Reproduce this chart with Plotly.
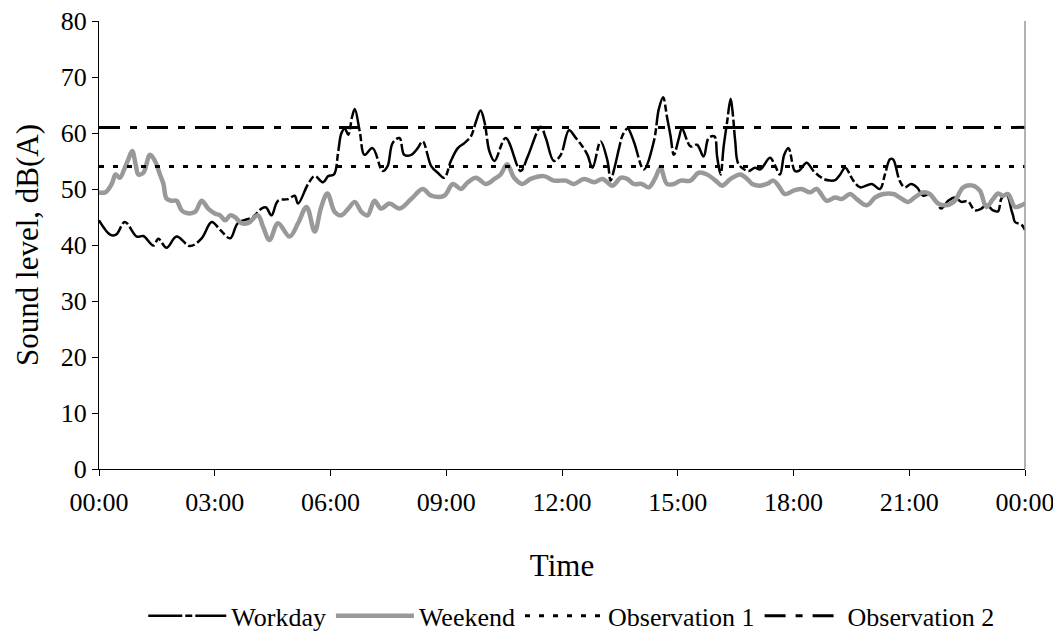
import plotly.graph_objects as go

# hours after midnight and sound level, dB(A)
workday_hours = [0.00, 0.30, 0.45, 0.67, 0.98, 1.15, 1.41, 1.54, 1.75, 2.01, 2.36, 2.66, 2.92, 3.14, 3.40,
                 3.60, 3.99, 4.21, 4.33, 4.47, 4.64, 4.90, 5.07, 5.16, 5.42, 5.59, 5.81, 5.94, 6.09, 6.20,
                 6.28, 6.37, 6.46, 6.56, 6.63, 6.76, 6.88, 7.09, 7.35, 7.48, 7.61, 7.79, 7.91, 8.09, 8.26,
                 8.39, 8.61, 8.78, 8.95, 9.12, 9.30, 9.47, 9.64, 9.77, 9.89, 9.99, 10.12, 10.25, 10.54,
                 10.93, 11.10, 11.45, 11.58, 11.79, 11.97, 12.18, 12.36, 12.53, 12.66, 12.79, 13.00,
                 13.18, 13.26, 13.35, 13.48, 13.57, 13.70, 13.86, 14.12, 14.38, 14.51, 14.62, 14.72,
                 14.81, 14.90, 15.03, 15.11, 15.33, 15.50, 15.67, 15.80, 15.95, 16.02, 16.11, 16.19,
                 16.28, 16.37, 16.43, 16.49, 16.58, 16.84, 17.00, 17.14, 17.39, 17.52, 17.65, 17.76,
                 17.87, 18.04, 18.15, 18.34, 18.52, 18.78, 18.95, 19.08, 19.21, 19.34, 19.55, 19.73,
                 20.03, 20.24, 20.37, 20.50, 20.58, 20.75, 20.88, 21.05, 21.20, 21.36, 21.53, 21.70,
                 21.83, 22.01, 22.18, 22.35, 22.52, 22.70, 22.87, 23.00, 23.17, 23.30, 23.39, 23.52,
                 23.65, 23.69, 23.74, 23.91, 24.00]
workday_db = [44.4, 41.8, 41.9, 44.1, 41.5, 41.6, 39.9, 41.1, 39.5, 41.5, 39.8, 41.2, 44.1, 42.7, 41.2,
              43.9, 45.0, 46.5, 46.7, 45.3, 47.9, 48.2, 48.8, 47.4, 50.9, 52.3, 51.2, 52.3, 52.6, 56.7,
              59.9, 60.8, 59.7, 62.9, 64.3, 60.2, 56.1, 57.3, 53.2, 54.1, 58.2, 59.1, 56.1, 56.1, 57.3,
              58.5, 54.1, 52.9, 52.0, 55.0, 57.3, 58.2, 59.4, 62.0, 64.0, 62.0, 56.7, 55.0, 59.1,
              53.2, 55.6, 61.1, 59.1, 55.0, 56.1, 60.5, 59.1, 57.6, 56.1, 53.8, 58.5,
              55.0, 51.5, 53.5, 57.3, 59.6, 60.8, 58.5, 53.5, 58.5, 64.3, 66.4, 62.9,
              59.6, 56.1, 59.1, 60.8, 57.6, 57.9, 55.8, 59.1, 59.4, 55.8, 52.6, 57.6,
              62.0, 66.1, 63.2, 58.5, 54.4, 53.2, 53.8, 53.5, 55.6, 54.2, 52.6, 56.1,
              57.3, 53.2, 53.3, 54.7, 53.2, 51.8, 51.5, 51.6, 52.6, 53.8, 51.5, 50.3,
              50.9, 50.0, 52.6, 55.3, 55.3, 51.5, 50.3, 50.9, 50.3, 48.8, 49.1, 47.7,
              46.5, 47.9, 48.5, 47.7, 47.8, 46.2, 46.5, 47.2, 46.2, 46.0, 48.3, 49.1,
              46.2, 45.3, 44.1, 43.6, 42.7]

weekend_hours = [0.00, 0.16, 0.33, 0.43, 0.54, 0.67, 0.76, 0.86, 0.95, 1.02, 1.15, 1.32, 1.45, 1.58,
                 1.67, 1.75, 1.88, 2.01, 2.14, 2.27, 2.49, 2.66, 2.83, 3.01, 3.14, 3.27, 3.40, 3.52,
                 3.69, 3.86, 4.12, 4.25, 4.42, 4.64, 4.94, 5.16, 5.38, 5.59, 5.76, 5.92, 6.11, 6.28,
                 6.46, 6.63, 6.80, 6.96, 7.14, 7.31, 7.53, 7.79, 8.09, 8.39, 8.61, 8.95, 9.17, 9.38,
                 9.56, 9.77, 10.03, 10.25, 10.41, 10.58, 10.76, 10.97, 11.19, 11.53, 11.79, 12.10,
                 12.31, 12.57, 12.83, 13.05, 13.31, 13.52, 13.69, 13.86, 14.07, 14.25, 14.42, 14.55,
                 14.72, 14.90, 15.07, 15.33, 15.54, 15.76, 15.98, 16.15, 16.37, 16.62, 16.80, 16.93,
                 17.13, 17.31, 17.48, 17.61, 17.78, 18.00, 18.21, 18.43, 18.60, 18.86, 19.08, 19.25,
                 19.47, 19.64, 19.90, 20.12, 20.33, 20.59, 20.75, 20.97, 21.14, 21.36, 21.53, 21.75,
                 21.96, 22.18, 22.40, 22.65, 22.83, 23.00, 23.17, 23.30, 23.43, 23.56, 23.74, 23.91,
                 24.00]
weekend_db = [49.4, 49.4, 50.9, 52.6, 52.0, 53.8, 55.3, 56.8, 54.4, 52.6, 52.9, 56.1, 55.0, 52.6,
              50.9, 48.3, 47.9, 47.9, 46.2, 45.7, 45.9, 47.9, 46.5, 45.6, 45.3, 44.4, 45.3, 45.0,
              43.9, 43.9, 45.3, 43.3, 40.9, 43.9, 41.5, 43.9, 46.8, 42.4, 46.8, 49.2, 45.9, 45.3,
              46.5, 47.7, 45.9, 45.3, 47.9, 46.5, 47.4, 46.5, 48.2, 50.0, 48.8, 48.8, 50.9, 50.0,
              51.2, 52.0, 50.9, 51.8, 52.6, 54.4, 52.0, 50.9, 51.8, 52.3, 51.5, 51.5,
              50.9, 51.8, 51.2, 51.8, 50.6, 52.0, 51.8, 50.9, 50.9, 50.3, 52.0, 53.8,
              50.9, 50.9, 51.5, 51.5, 52.9, 52.6, 51.5, 50.6, 51.8, 52.6, 51.8, 50.9,
              50.6, 50.9, 51.5, 50.6, 49.1, 49.7, 50.0, 49.4, 50.0, 47.9, 48.5, 48.2,
              49.1, 48.2, 47.1, 48.5, 49.1, 49.1, 48.5, 47.7, 48.5, 49.4, 49.1, 47.4,
              47.1, 47.9, 50.3, 50.6, 49.7, 46.8, 48.2, 49.2, 48.8, 49.1, 46.8, 47.1,
              47.4]

obs1_db = 54
obs2_db = 61

tick_hours = [0, 3, 6, 9, 12, 15, 18, 21, 24]
tick_labels = ["00:00", "03:00", "06:00", "09:00", "12:00", "15:00", "18:00", "21:00", "00:00"]

font = "Liberation Serif"

fig = go.Figure()

fig.add_trace(go.Scatter(
    x=workday_hours, y=workday_db, name="Workday", mode="lines",
    line=dict(color="black", width=2.5, dash="34px,3px,7px,3px", shape="spline", smoothing=1)))

fig.add_trace(go.Scatter(
    x=weekend_hours, y=weekend_db, name="Weekend", mode="lines",
    line=dict(color="#999999", width=4.5, shape="spline", smoothing=1)))

fig.add_trace(go.Scatter(
    x=[0, 24], y=[obs1_db, obs1_db], name="Observation 1", mode="lines",
    line=dict(color="black", width=3, dash="5px,9px")))

fig.add_trace(go.Scatter(
    x=[0, 24], y=[obs2_db, obs2_db], name="Observation 2", mode="lines",
    line=dict(color="black", width=3, dash="21px,10px,7px,10px")))

fig.update_layout(
    width=1061, height=642,
    margin=dict(l=91, r=44, t=13, b=180),
    plot_bgcolor="white", paper_bgcolor="white",
    font=dict(family=font, size=26, color="black"),
    showlegend=True,
    legend=dict(orientation="h", x=0.51, xanchor="center", y=-0.325, yanchor="middle",
                font=dict(size=26), itemwidth=78, tracegroupgap=0),
)

fig.update_xaxes(
    range=[0, 24], tickvals=tick_hours, ticktext=tick_labels, automargin=False,
    showgrid=False, zeroline=False, showline=True, linecolor="black", linewidth=1,
    ticks="outside", ticklen=6, tickcolor="black", ticklabelstandoff=4,
    title=dict(text="Time", standoff=38))

fig.update_yaxes(
    range=[0, 80], dtick=10, automargin=False, ticklabeloverflow="allow",
    showgrid=False, zeroline=False, showline=True, linecolor="black", linewidth=1,
    ticks="outside", ticklen=6, tickcolor="black",
    title=dict(text="Sound level, dB(A)", standoff=12))

# light border on the right side of the plot area
fig.add_shape(type="line", xref="paper", yref="paper", x0=1, x1=1, y0=0, y1=1,
              line=dict(color="#999999", width=1.5))

fig.write_html("out.html")
